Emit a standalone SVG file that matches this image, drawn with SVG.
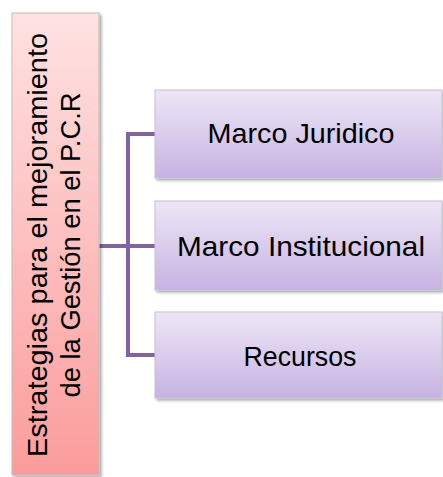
<svg xmlns="http://www.w3.org/2000/svg" width="443" height="477" viewBox="0 0 443 477">
<style>
.t{font-family:"Liberation Sans",Arial,sans-serif;font-size:28px;fill:#000;}
.box{fill:url(#gp);stroke:#c8c0d4;stroke-width:1;filter:url(#sh);}
.conn{fill:none;stroke:#8064a2;stroke-width:4;}
</style>
<defs>
<linearGradient id="gp" x1="0" y1="0" x2="0" y2="1">
<stop offset="0" stop-color="#ede6f6"/>
<stop offset="1" stop-color="#c7b3e3"/>
</linearGradient>
<linearGradient id="gr" x1="0" y1="0" x2="0" y2="1">
<stop offset="0" stop-color="#ffe2e2"/>
<stop offset="1" stop-color="#fb9c9c"/>
</linearGradient>
<filter id="sh" x="-10%" y="-10%" width="130%" height="130%">
<feGaussianBlur in="SourceAlpha" stdDeviation="1.5"/>
<feOffset dx="1.5" dy="2" result="b"/>
<feComponentTransfer><feFuncA type="linear" slope="0.35"/></feComponentTransfer>
<feMerge><feMergeNode/><feMergeNode in="SourceGraphic"/></feMerge>
</filter>
</defs>
<g id="connectors">
<path class="conn" d="M99,246 H155"/>
<path class="conn" d="M155,134 H128 V355 H155"/>
</g>
<g id="root">
<rect x="12" y="13" width="87" height="462" fill="url(#gr)" stroke="#c9b9b9" stroke-width="1" filter="url(#sh)"/>
<text class="t" transform="translate(47,245) rotate(-90)" text-anchor="middle" textLength="424" lengthAdjust="spacingAndGlyphs">Estrategias para el mejoramiento</text>
<text class="t" transform="translate(80,245) rotate(-90)" text-anchor="middle" textLength="305" lengthAdjust="spacingAndGlyphs">de la Gestión en el P.C.R</text>
</g>
<g id="n1">
<rect class="box" x="155" y="90" width="287" height="88"/>
<text class="t" x="301" y="143" text-anchor="middle" textLength="187" lengthAdjust="spacingAndGlyphs">Marco Juridico</text>
</g>
<g id="n2">
<rect class="box" x="155" y="201" width="287" height="89"/>
<text class="t" x="301" y="256" text-anchor="middle" textLength="248" lengthAdjust="spacingAndGlyphs">Marco Institucional</text>
</g>
<g id="n3">
<rect class="box" x="155" y="312" width="287" height="86"/>
<text class="t" x="300" y="366" text-anchor="middle" textLength="113" lengthAdjust="spacingAndGlyphs">Recursos</text>
</g>
</svg>
